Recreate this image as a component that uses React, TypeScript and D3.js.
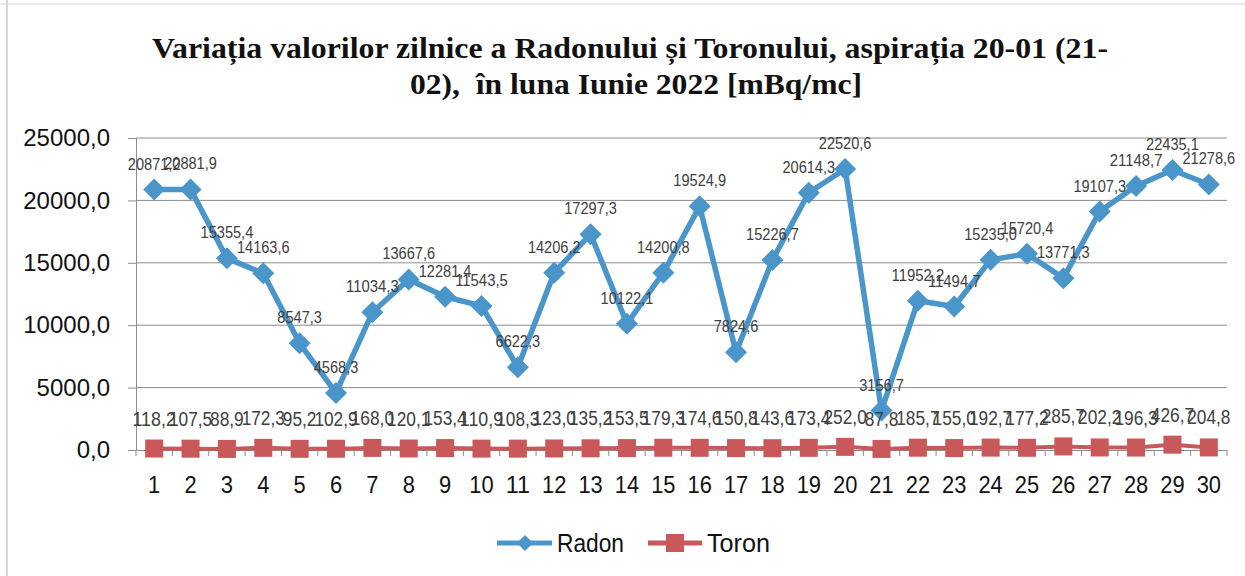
import React, { useEffect, useRef } from 'react';
import * as d3 from 'd3';

const days = ['1', '2', '3', '4', '5', '6', '7', '8', '9', '10', '11', '12', '13', '14', '15',
  '16', '17', '18', '19', '20', '21', '22', '23', '24', '25', '26', '27', '28', '29', '30'];

const radon = [20871.2, 20881.9, 15355.4, 14163.6, 8547.3, 4568.3, 11034.3, 13667.6, 12281.4, 11543.5,
  6622.3, 14206.2, 17297.3, 10122.1, 14200.8, 19524.9, 7824.6, 15226.7, 20614.3, 22520.6,
  3156.7, 11952.2, 11494.7, 15235.0, 15720.4, 13771.3, 19107.3, 21148.7, 22435.1, 21278.6];

const toron = [118.2, 107.5, 88.9, 172.3, 95.2, 102.9, 168.0, 120.1, 153.4, 110.9,
  108.3, 123.0, 135.2, 153.5, 179.3, 174.6, 150.8, 143.6, 173.4, 252.0,
  87.8, 185.7, 155.0, 192.7, 177.2, 285.7, 202.2, 196.3, 426.7, 204.8];

const yTicks = [0, 5000, 10000, 15000, 20000, 25000];

const titleLines = [
  'Variația valorilor zilnice a Radonului și Toronului, aspirația 20-01 (21-',
  '02),  în luna Iunie 2022 [mBq/mc]',
];

const RADON_COLOR = '#4a95c9';
const TORON_COLOR = '#c9585a';
const LABEL_COLOR = '#404040';
const SANS = '"Liberation Sans", Arial, sans-serif';

const fmt = (v: number) => d3.format('.1f')(v).replace('.', ',');

// the original uses a narrow font, so squeeze the text to its width
const narrowWidth = (s: string, size: number) =>
  s.split('').reduce((w, c) => w + (c === ',' ? 0.25 : 0.507), 0) * size;

const App = () => {
  const ref = useRef<SVGSVGElement>(null);

  useEffect(() => {
    const width = 1245;
    const height = 576;
    const left = 136;
    const right = 1227;
    const top = 138;
    const bottom = 450;

    const svg = d3.select(ref.current!);
    svg.selectAll('*').remove();
    svg.attr('width', width).attr('height', height);

    svg.append('rect').attr('width', width).attr('height', height).attr('fill', '#fff');

    // scan frame lines
    svg.append('line').attr('x1', 7).attr('x2', 7).attr('y1', 0).attr('y2', height)
      .attr('stroke', '#c8c8c8').attr('stroke-width', 1.5);
    svg.append('line').attr('x1', 0).attr('x2', width).attr('y1', 4).attr('y2', 4)
      .attr('stroke', '#d8d8d8').attr('stroke-width', 1);

    const x = d3.scaleBand<string>().domain(days).range([left, right]);
    const y = d3.scaleLinear().domain([0, 25000]).range([bottom, top]);
    const cx = (d: string) => x(d)! + x.bandwidth() / 2;

    // title
    const title = svg.append('text')
      .attr('text-anchor', 'middle')
      .attr('xml:space', 'preserve')
      .style('white-space', 'pre')
      .style('font-family', '"Liberation Serif", "Times New Roman", serif')
      .style('font-weight', 'bold')
      .style('font-size', '30px')
      .attr('fill', '#111');
    title.append('tspan').attr('x', 630).attr('y', 58).text(titleLines[0])
      .attr('textLength', 956).attr('lengthAdjust', 'spacingAndGlyphs');
    title.append('tspan').attr('x', 636).attr('y', 94).text(titleLines[1])
      .attr('textLength', 452).attr('lengthAdjust', 'spacingAndGlyphs');

    // gridlines
    svg.append('g')
      .selectAll('line')
      .data(yTicks.filter(t => t > 0))
      .join('line')
      .attr('x1', left).attr('x2', right)
      .attr('y1', d => y(d)).attr('y2', d => y(d))
      .attr('stroke', '#8c8c8c').attr('stroke-width', 1);

    // y axis
    const yAxis = svg.append('g')
      .attr('transform', `translate(${left},0)`)
      .call(d3.axisLeft(y).tickValues(yTicks).tickSize(8).tickPadding(18).tickFormat(d => fmt(+d)));
    yAxis.select('.domain').attr('stroke', '#8c8c8c');
    yAxis.selectAll('.tick line').attr('stroke', '#8c8c8c');
    yAxis.selectAll('.tick text')
      .attr('fill', '#111')
      .style('font-family', SANS)
      .style('font-size', '24px');

    // x axis
    const xAxis = svg.append('g')
      .attr('transform', `translate(0,${bottom})`)
      .call(d3.axisBottom(x).tickSize(0).tickPadding(26));
    xAxis.select('.domain').attr('stroke', '#8c8c8c');
    xAxis.selectAll<SVGTextElement, string>('.tick text')
      .attr('fill', '#111')
      .style('font-family', SANS)
      .style('font-size', '24px')
      .attr('textLength', d => narrowWidth(d, 24))
      .attr('lengthAdjust', 'spacingAndGlyphs');
    svg.append('g')
      .selectAll('line')
      .data(d3.range(days.length + 1))
      .join('line')
      .attr('x1', i => left + i * x.bandwidth()).attr('x2', i => left + i * x.bandwidth())
      .attr('y1', bottom).attr('y2', bottom + 6)
      .attr('stroke', '#8c8c8c');

    const diamond = (r: number) => `M0,${-r}L${r},0L0,${r}L${-r},0Z`;

    // toron series
    const toronLine = d3.line<number>().x((_, i) => cx(days[i])).y(d => y(d));
    svg.append('path').datum(toron)
      .attr('fill', 'none').attr('stroke', TORON_COLOR).attr('stroke-width', 4)
      .attr('d', toronLine);
    svg.append('g').selectAll('rect').data(toron).join('rect')
      .attr('x', (_, i) => cx(days[i]) - 9).attr('y', d => y(d) - 9)
      .attr('width', 18).attr('height', 18)
      .attr('fill', TORON_COLOR);

    // radon series
    const radonLine = d3.line<number>().x((_, i) => cx(days[i])).y(d => y(d));
    svg.append('path').datum(radon)
      .attr('fill', 'none').attr('stroke', RADON_COLOR).attr('stroke-width', 5.5)
      .attr('stroke-linejoin', 'round')
      .attr('d', radonLine);
    svg.append('g').selectAll('path').data(radon).join('path')
      .attr('transform', (d, i) => `translate(${cx(days[i])},${y(d)})`)
      .attr('d', diamond(11))
      .attr('fill', RADON_COLOR);

    // data labels
    svg.append('g').selectAll('text').data(radon).join('text')
      .attr('x', (_, i) => cx(days[i]))
      .attr('y', d => y(d) - 20)
      .attr('text-anchor', 'middle')
      .attr('fill', LABEL_COLOR)
      .style('font-family', SANS)
      .style('font-size', '16px')
      .attr('textLength', d => narrowWidth(fmt(d), 16))
      .attr('lengthAdjust', 'spacingAndGlyphs')
      .text(d => fmt(d));
    svg.append('g').selectAll('text').data(toron).join('text')
      .attr('x', (_, i) => cx(days[i]))
      .attr('y', d => y(d) - 23)
      .attr('text-anchor', 'middle')
      .attr('fill', LABEL_COLOR)
      .style('font-family', SANS)
      .style('font-size', '20px')
      .attr('textLength', d => narrowWidth(fmt(d), 19))
      .attr('lengthAdjust', 'spacingAndGlyphs')
      .text(d => fmt(d));

    // legend
    const legend = svg.append('g').attr('transform', 'translate(0,543)');
    legend.append('line').attr('x1', 497).attr('x2', 552).attr('y1', 0).attr('y2', 0)
      .attr('stroke', RADON_COLOR).attr('stroke-width', 5);
    legend.append('path').attr('transform', 'translate(525,0)').attr('d', diamond(8)).attr('fill', RADON_COLOR);
    legend.append('text').attr('x', 557).attr('y', 0).attr('dy', '0.35em')
      .attr('textLength', 67).attr('lengthAdjust', 'spacingAndGlyphs')
      .style('font-family', SANS).style('font-size', '25px').attr('fill', '#111').text('Radon');
    legend.append('line').attr('x1', 648).attr('x2', 702).attr('y1', 0).attr('y2', 0)
      .attr('stroke', TORON_COLOR).attr('stroke-width', 5);
    legend.append('rect').attr('x', 666).attr('y', -9).attr('width', 18).attr('height', 18).attr('fill', TORON_COLOR);
    legend.append('text').attr('x', 707).attr('y', 0).attr('dy', '0.35em')
      .attr('textLength', 63).attr('lengthAdjust', 'spacingAndGlyphs')
      .style('font-family', SANS).style('font-size', '25px').attr('fill', '#111').text('Toron');
  }, []);

  return <svg ref={ref} style={{ position: 'absolute', left: 0, top: 0, display: 'block' }} />;
};

export default App;
